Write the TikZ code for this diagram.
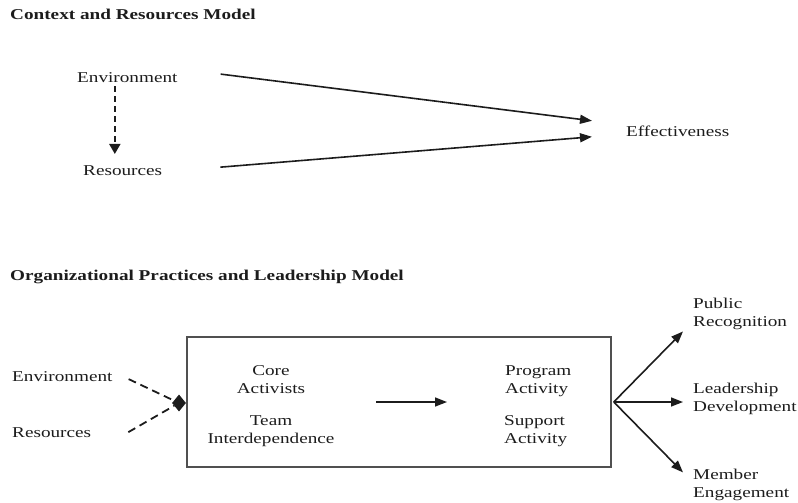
\documentclass[tikz,border=0pt]{standalone}
\usepackage{fontspec}
\setmainfont{Liberation Serif}[FakeStretch=1.28]
\usetikzlibrary{arrows.meta,shapes.geometric}
\definecolor{ink}{HTML}{1C1C1C}
\definecolor{frame}{HTML}{505050}
\begin{document}
\begin{tikzpicture}[x=1pt,y=-1pt,
  lbl/.style={inner sep=0pt,text=ink,font=\fontsize{15}{18}\selectfont},
  heading/.style={lbl,font=\fontsize{15}{18}\selectfont\bfseries},
  arr/.style={draw=ink,line width=1.6pt,-{Triangle[length=12pt,width=9pt]}},
  dasharr/.style={draw=ink,line width=1.8pt,dash pattern=on 6pt off 4pt,-{Triangle[length=10pt,width=11pt]}},
  dashln/.style={draw=ink,line width=1.8pt,dash pattern=on 8pt off 5pt},
  blockbox/.style={draw=frame,line width=1.5pt,inner sep=0pt},
  joint/.style={diamond,fill=ink,inner sep=0pt,minimum width=14pt,minimum height=17pt}]
\useasboundingbox (0,0) rectangle (798,503);

% ---- Context and Resources Model ----
\node[heading,anchor=base west] (t1) at (10,20) {Context and Resources Model};
\node[lbl,anchor=base west] (env1) at (77,82) {Environment};
\node[lbl,anchor=base west] (res1) at (83,175) {Resources};
\node[lbl,anchor=base west] (eff) at (626,136) {Effectiveness};

\coordinate (dtop) at ([xshift=-12.5,yshift=-4]env1.south);
\draw[dasharr,shorten >=11pt] (dtop) -- (dtop |- res1.north);
\draw[arr] ([xshift=43,yshift=3]env1.east) -- ([xshift=-34,yshift=10]eff.west);
\draw[arr] ([xshift=58,yshift=3]res1.east) -- ([xshift=-34,yshift=-6]eff.west);

% ---- Organizational Practices and Leadership Model ----
\node[heading,anchor=base west] (t2) at (10,280) {Organizational Practices and Leadership Model};
\node[blockbox,minimum width=424pt,minimum height=130pt] (box) at (399,402) {};

\node[lbl,anchor=base west] (env2) at (12,381) {Environment};
\node[lbl,anchor=base west] (res2) at (12,437) {Resources};
\node[joint] (dia) at (179,403) {};
\draw[dashln] ([xshift=16,yshift=-3]env2.east) -- (dia);
\draw[dashln] ([xshift=37,yshift=0]res2.east) -- (dia);

% two-line labels: the base anchor sits on the last line
\node[lbl,align=center,anchor=base] (core) at (271,393) {Core\\Activists};
\node[lbl,align=center,anchor=base] (team) at (271,443) {Team\\Interdependence};
\node[lbl,align=left,anchor=base west] (prog) at (505,393) {Program\\Activity};
\node[lbl,align=left,anchor=base west] (supp) at (504,443) {Support\\Activity};
\draw[arr] ([xshift=-23]box.center) -- ([xshift=48]box.center);

\node[lbl,align=left,anchor=base west] (pub) at (693,326) {Public\\Recognition};
\node[lbl,align=left,anchor=base west] (lead) at (693,411) {Leadership\\Development};
\node[lbl,align=left,anchor=base west] (mem) at (693,497) {Member\\Engagement};

\coordinate (leadin) at ([xshift=-10]lead.west);
\draw[arr] ([xshift=2]box.east) -- ([xshift=-10,yshift=-2]pub.south west);
\draw[arr] ([xshift=2]box.east) -- (box.east -| leadin);
\draw[arr] ([xshift=2]box.east) -- ([xshift=-10,yshift=-4]mem.north west);
\end{tikzpicture}
\end{document}
